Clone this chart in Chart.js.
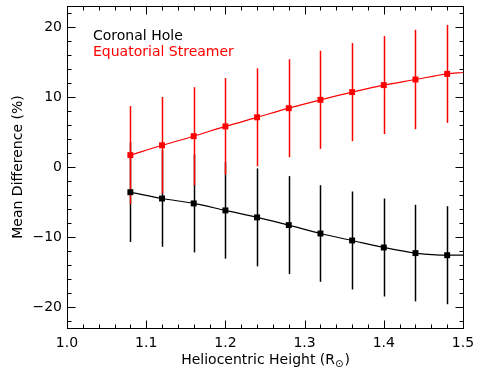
<!DOCTYPE html>
<html>
<head>
<meta charset="utf-8">
<script src="https://cdn.jsdelivr.net/npm/chart.js@4.4.1/dist/chart.umd.min.js"></script>
<style>
html, body { margin: 0; padding: 0; background: #fff; }
#wrap { width: 479px; height: 373px; }
</style>
</head>
<body>
<div id="wrap"><canvas id="c"></canvas></div>
<script>
// values
const heights = [1.08, 1.12, 1.16, 1.20, 1.24, 1.28, 1.32, 1.36, 1.40, 1.44, 1.48];
const holeMean = [-3.6, -4.5, -5.2, -6.2, -7.2, -8.3, -9.5, -10.5, -11.5, -12.3, -12.6];
const holeErr = [7.1, 6.9, 7.0, 6.9, 7.0, 7.0, 6.9, 7.0, 7.0, 6.9, 7.0];
const streamerMean = [1.7, 3.1, 4.4, 5.8, 7.1, 8.4, 9.6, 10.7, 11.7, 12.5, 13.3];
const streamerErr = [7.0, 6.9, 7.0, 6.9, 7.0, 7.0, 7.0, 7.0, 7.0, 7.1, 7.0];
// the fitted curves run on to the right edge
const fitEndX = 1.5;
const holeFitEnd = -12.6;
const streamerFitEnd = 13.5;

const xTicks = [1.0, 1.1, 1.2, 1.3, 1.4, 1.5];
const yTicks = [-20, -10, 0, 10, 20];
const seriesNames = ['Coronal Hole', 'Equatorial Streamer'];
const seriesColors = ['#000000', '#ff0000'];

const FONT = 'DejaVu Sans';
const FS = 14;

function pts(xs, ys) {
    return xs.map((x, i) => ({ x: x, y: ys[i] }));
}

// error bars
const errorBars = {
    id: 'errorBars',
    beforeDatasetsDraw(chart) {
        const ctx = chart.ctx;
        const xs = chart.scales.x, ys = chart.scales.y;
        const sets = [[holeMean, holeErr, seriesColors[0]], [streamerMean, streamerErr, seriesColors[1]]];
        ctx.save();
        sets.forEach(([mean, err, col]) => {
            ctx.strokeStyle = col;
            ctx.lineWidth = 1.5;
            heights.forEach((h, i) => {
                const px = Math.round(xs.getPixelForValue(h)) + 0.5;
                ctx.beginPath();
                ctx.moveTo(px, ys.getPixelForValue(mean[i] - err[i]));
                ctx.lineTo(px, ys.getPixelForValue(mean[i] + err[i]));
                ctx.stroke();
            });
        });
        ctx.restore();
    }
};

// box, inward ticks, legend text and axis titles
const frame = {
    id: 'frame',
    afterDatasetsDraw(chart) {
        const ctx = chart.ctx;
        const a = chart.chartArea;
        const xs = chart.scales.x, ys = chart.scales.y;
        const L = Math.round(a.left) + 0.5, R = Math.round(a.right) + 0.5;
        const T = Math.round(a.top) + 0.5, B = Math.round(a.bottom) + 0.5;
        ctx.save();
        ctx.strokeStyle = '#000';
        ctx.lineWidth = 1;
        ctx.strokeRect(L, T, R - L, B - T);
        ctx.beginPath();
        for (let v = 1.0; v <= 1.5001; v += 0.02) {
            const major = Math.abs(v * 10 - Math.round(v * 10)) < 1e-6;
            const len = major ? 8 : 4;
            const px = Math.round(xs.getPixelForValue(v)) + 0.5;
            ctx.moveTo(px, B); ctx.lineTo(px, B - len);
            ctx.moveTo(px, T); ctx.lineTo(px, T + len);
        }
        for (let v = -22; v <= 22; v += 2) {
            const len = (v % 10 === 0) ? 8 : 4;
            const py = Math.round(ys.getPixelForValue(v)) + 0.5;
            ctx.moveTo(L, py); ctx.lineTo(L + len, py);
            ctx.moveTo(R, py); ctx.lineTo(R - len, py);
        }
        ctx.stroke();

        ctx.font = FS + 'px "' + FONT + '"';
        ctx.textAlign = 'left';
        ctx.textBaseline = 'alphabetic';
        ctx.fillStyle = seriesColors[0];
        ctx.fillText(seriesNames[0], 93, 40);
        ctx.fillStyle = seriesColors[1];
        ctx.fillText(seriesNames[1], 93, 56);

        // y title
        ctx.fillStyle = '#000';
        ctx.save();
        ctx.translate(18, (a.top + a.bottom) / 2);
        ctx.rotate(-Math.PI / 2);
        ctx.textAlign = 'center';
        ctx.textBaseline = 'middle';
        ctx.fillText('Mean Difference (%)', 0, 0);
        ctx.restore();

        // x title with subscript sun symbol
        const main = 'Heliocentric Height (R';
        const sub = '\u2299';
        const close = ')';
        ctx.font = FS + 'px "' + FONT + '"';
        const w1 = ctx.measureText(main).width;
        const w3 = ctx.measureText(close).width;
        ctx.font = '10px "' + FONT + '"';
        const w2 = ctx.measureText(sub).width;
        let x0 = (a.left + a.right) / 2 - (w1 + w2 + w3) / 2;
        const base = 364;
        ctx.textAlign = 'left';
        ctx.textBaseline = 'alphabetic';
        ctx.font = FS + 'px "' + FONT + '"';
        ctx.fillText(main, x0, base);
        ctx.font = '10px "' + FONT + '"';
        ctx.fillText(sub, x0 + w1, base + 3);
        ctx.font = FS + 'px "' + FONT + '"';
        ctx.fillText(close, x0 + w1 + w2 + 1, base);
        ctx.restore();
    }
};

const ctx = document.getElementById('c').getContext('2d');

const config = {
    type: 'scatter',
    data: {
        datasets: [
            {
                label: seriesNames[1],
                data: pts(heights, streamerMean),
                showLine: false,
                pointStyle: 'rect',
                pointRadius: 4.2,
                backgroundColor: seriesColors[1],
                borderColor: seriesColors[1],
                borderWidth: 0
            },
            {
                label: seriesNames[0],
                data: pts(heights, holeMean),
                showLine: false,
                pointStyle: 'rect',
                pointRadius: 4.2,
                backgroundColor: seriesColors[0],
                borderColor: seriesColors[0],
                borderWidth: 0
            },
            {
                label: 'fit1',
                data: pts(heights.concat([fitEndX]), streamerMean.concat([streamerFitEnd])),
                showLine: true,
                pointRadius: 0,
                borderColor: seriesColors[1],
                borderWidth: 1.2,
                cubicInterpolationMode: 'monotone'
            },
            {
                label: 'fit0',
                data: pts(heights.concat([fitEndX]), holeMean.concat([holeFitEnd])),
                showLine: true,
                pointRadius: 0,
                borderColor: seriesColors[0],
                borderWidth: 1.2,
                cubicInterpolationMode: 'monotone'
            }
        ]
    },
    options: {
        responsive: true,
        maintainAspectRatio: false,
        animation: false,
        devicePixelRatio: 1,
        layout: { padding: { left: 0, right: 16, top: 6, bottom: 0 } },
        plugins: {
            legend: { display: false },
            tooltip: { enabled: false }
        },
        scales: {
            x: {
                type: 'linear',
                min: 1.0,
                max: 1.5,
                grid: { display: false, drawTicks: false },
                border: { display: false },
                ticks: {
                    color: '#000',
                    font: { family: FONT, size: FS },
                    padding: 7,
                    maxRotation: 0,
                    callback: v => v.toFixed(1)
                },
                afterBuildTicks: s => { s.ticks = xTicks.map(v => ({ value: v })); },
                afterFit: s => { s.height = 45; s.paddingLeft = 0; s.paddingRight = 0; }
            },
            y: {
                min: -23,
                max: 23,
                grid: { display: false, drawTicks: false },
                border: { display: false },
                ticks: {
                    color: '#000',
                    font: { family: FONT, size: FS },
                    padding: 5,
                    callback: v => v < 0 ? '\u2212' + Math.abs(v) : String(v)
                },
                afterBuildTicks: s => { s.ticks = yTicks.map(v => ({ value: v })); },
                afterFit: s => { s.width = 67; s.paddingTop = 0; s.paddingBottom = 0; }
            }
        }
    },
    plugins: [errorBars, frame]
};

const myChart = new Chart(ctx, config);
</script>
</body>
</html>
